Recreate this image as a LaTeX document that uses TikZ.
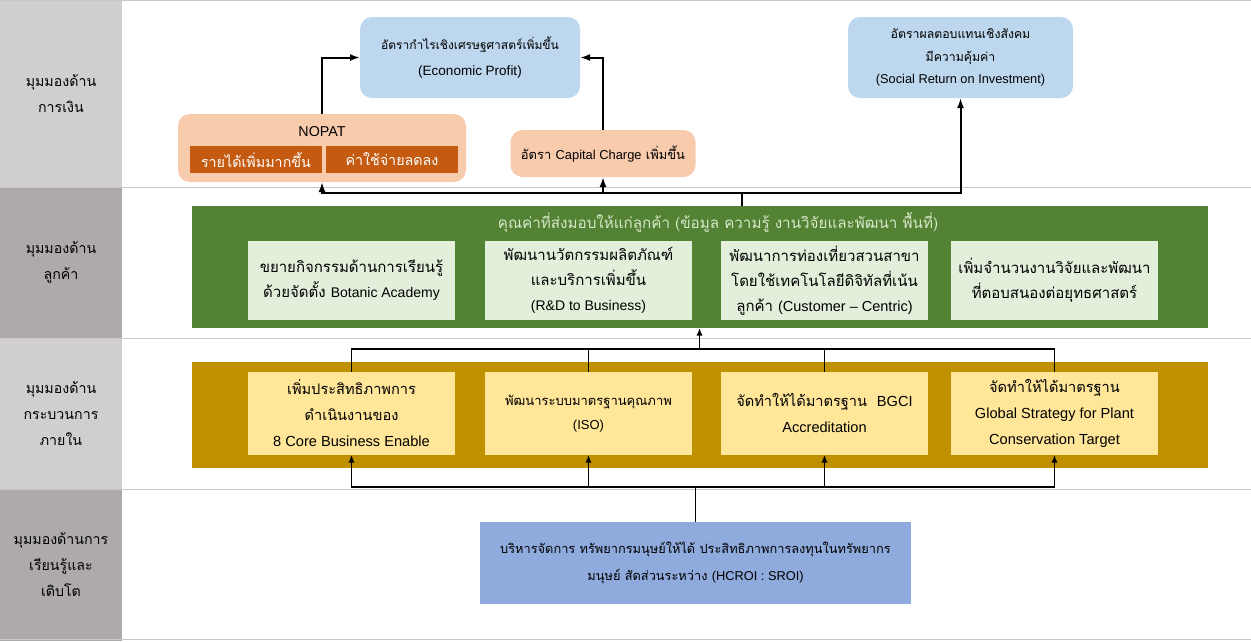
\documentclass[tikz,border=0pt]{standalone}
\usepackage{fontspec}
\setmainfont{Liberation Sans}
\newfontfamily\thaifont[Script=Thai]{Loma}
\usetikzlibrary{positioning,arrows.meta}

\definecolor{lanelight}{HTML}{D0CECE}
\definecolor{lanedark}{HTML}{AEAAAA}
\definecolor{goalblue}{HTML}{BDD7EE}
\definecolor{peach}{HTML}{F8CBAD}
\definecolor{rust}{HTML}{C55A11}
\definecolor{leaf}{HTML}{548235}
\definecolor{leaflight}{HTML}{E2EFDA}
\definecolor{leaftext}{HTML}{D5E8C8}
\definecolor{gold}{HTML}{BF9000}
\definecolor{cream}{HTML}{FFE699}
\definecolor{steel}{HTML}{8FAADC}
\definecolor{rule}{HTML}{C8C8C8}

\newcommand\latn[1]{{\rmfamily #1}}
\newcommand\latx[2]{{\rmfamily\fontsize{#1}{25}\selectfont #2}}

\begin{document}
\begin{tikzpicture}[x=1pt,y=-1pt,>={Latex[length=10pt,width=7pt]},line width=2pt,
    lane node/.style={rectangle,minimum width=122pt,inner sep=0pt,outer sep=0pt,align=center,font=\thaifont\fontsize{14.2}{26}\selectfont},
    goal node/.style={rectangle,rounded corners=12pt,fill=goalblue,inner sep=0pt,outer sep=0pt,align=center,font=\thaifont\fontsize{12}{26}\selectfont},
    peach node/.style={rectangle,rounded corners=12pt,fill=peach,inner sep=0pt,outer sep=0pt,align=center,font=\thaifont\fontsize{12.9}{24}\selectfont},
    rust node/.style={rectangle,fill=rust,text=white,minimum width=132pt,minimum height=27pt,inner sep=0pt,outer sep=0pt,font=\thaifont\fontsize{14.3}{24}\selectfont},
    band node/.style={rectangle,minimum width=1016pt,inner sep=0pt,outer sep=0pt},
    value node/.style={rectangle,fill=leaflight,minimum width=207pt,minimum height=79pt,inner sep=0pt,outer sep=0pt,align=center,font=\thaifont\fontsize{15}{25}\selectfont},
    work node/.style={rectangle,fill=cream,minimum width=207pt,minimum height=83pt,inner sep=0pt,outer sep=0pt,align=center,font=\thaifont\fontsize{14.6}{26}\selectfont},
    thin line/.style={line width=1.2pt,>={Latex[length=7.5pt,width=6pt]}},
    row line/.style={draw=rule,line width=0.6pt}]

    \useasboundingbox (0,0) rectangle (1251,641);

    \node[lane node,fill=lanelight,minimum height=187pt] (1) at (61,93.5) {มุมมองด้าน\\การเงิน};
    \node[lane node,fill=lanedark,minimum height=151pt] (2) at (61,262.5) {มุมมองด้าน\\ลูกค้า};
    \node[lane node,fill=lanelight,minimum height=151pt] (3) at (61,413.5) {มุมมองด้าน\\กระบวนการ\\ภายใน};
    \node[lane node,fill=lanedark,minimum height=152pt] (4) at (61,565) {มุมมองด้านการ\\เรียนรู้และ\\เติบโต};

    \draw[row line] (1.north west) -- ++(1251,0);
    \draw[row line] (1.south west) -- ++(1251,0);
    \draw[row line] (2.south west) -- ++(1251,0);
    \draw[row line] (3.south west) -- ++(1251,0);
    \draw[row line] (4.south west) ++(0,-2) -- ++(1251,0);

    \node[goal node,minimum width=220pt,minimum height=81pt] (5) at (470,57.5) {อัตรากำไรเชิงเศรษฐศาสตร์เพิ่มขึ้น\\\latx{13.5}{(Economic Profit)}};
    \node[goal node,minimum width=225pt,minimum height=81pt,font=\thaifont\fontsize{12.3}{22.5}\selectfont] (6) at (960.5,57.5) {อัตราผลตอบแทนเชิงสังคม\\มีความคุ้มค่า\\\latx{12.8}{(Social Return on Investment)}};

    \node[peach node,minimum width=288pt,minimum height=68pt] (7) at (322,148) {};
    \node[font=\rmfamily\fontsize{14.3}{15}\selectfont] (8) at (322,132) {NOPAT};
    \node[rust node] (9) at (256,159.5) {รายได้เพิ่มมากขึ้น};
    \node[rust node,right=4pt of 9] (10) {ค่าใช้จ่ายลดลง};
    \node[peach node,minimum width=185pt,minimum height=47pt] (11) at (603,153.5) {อัตรา \latn{Capital Charge} เพิ่มขึ้น};

    \node[band node,fill=leaf,minimum height=122pt] (12) at (700,267) {};
    \node[text=leaftext,font=\thaifont\fontsize{15.2}{20}\selectfont] (13) at (718,222) {คุณค่าที่ส่งมอบให้แก่ลูกค้า (ข้อมูล ความรู้ งานวิจัยและพัฒนา พื้นที่)};
    \node[value node] (14) at (351.5,280.5) {ขยายกิจกรรมด้านการเรียนรู้\\ด้วยจัดตั้ง \latx{14}{Botanic Academy}};
    \node[value node,right=30pt of 14] (15) {พัฒนานวัตกรรมผลิตภัณฑ์\\และบริการเพิ่มขึ้น\\\latx{14}{(R\&D to Business)}};
    \node[value node,right=29pt of 15] (16) {พัฒนาการท่องเที่ยวสวนสาขา\\โดยใช้เทคโนโลยีดิจิทัลที่เน้น\\ลูกค้า \latx{14.5}{(Customer -- Centric)}};
    \node[value node,right=23pt of 16] (17) {เพิ่มจำนวนงานวิจัยและพัฒนา\\ที่ตอบสนองต่อยุทธศาสตร์};

    \node[band node,fill=gold,minimum height=106pt] (18) at (700,415) {};
    \node[work node] (19) at (351.5,413.5) {เพิ่มประสิทธิภาพการ\\ดำเนินงานของ\\\latn{8 Core Business Enable}};
    \node[work node,right=30pt of 19,font=\thaifont\fontsize{13}{24}\selectfont] (20) {พัฒนาระบบมาตรฐานคุณภาพ\\\latn{(ISO)}};
    \node[work node,right=29pt of 20] (21) {จัดทำให้ได้มาตรฐาน \ \latn{BGCI}\\\latn{Accreditation}};
    \node[work node,right=23pt of 21] (22) {จัดทำให้ได้มาตรฐาน\\\latn{Global Strategy for Plant}\\\latn{Conservation Target}};

    \node[rectangle,fill=steel,minimum width=431pt,minimum height=82pt,inner sep=0pt,outer sep=0pt,align=center,font=\thaifont\fontsize{12.8}{27}\selectfont] (23) at (695.5,563) {บริหารจัดการ ทรัพยากรมนุษย์ให้ได้ ประสิทธิภาพการลงทุนในทรัพยากร\\มนุษย์ สัดส่วนระหว่าง \latn{(HCROI : SROI)}};

    \coordinate (24) at (742,193);
    \coordinate (25) at (699.5,349);
    \coordinate (26) at (695.5,487);

    \draw (12.north -| 24) -- (24);
    \draw[->] (24) -| (7.south);
    \draw[->] (24) -| (11.south);
    \draw[->] (24) -| (6.south);
    \draw[->] (7.north) |- (5.west);
    \draw[->] (11.north) |- (5.east);

    \draw[thin line] (19.north) |- (25);
    \draw[thin line] (20.north) |- (25);
    \draw[thin line] (21.north) |- (25);
    \draw[thin line] (22.north) |- (25);
    \draw[thin line,->] (25) -- (12.south -| 25);

    \draw[thin line] (23.north) -- (26);
    \draw[thin line,->] (26) -| (19.south);
    \draw[thin line,->] (26) -| (20.south);
    \draw[thin line,->] (26) -| (21.south);
    \draw[thin line,->] (26) -| (22.south);
\end{tikzpicture}
\end{document}
